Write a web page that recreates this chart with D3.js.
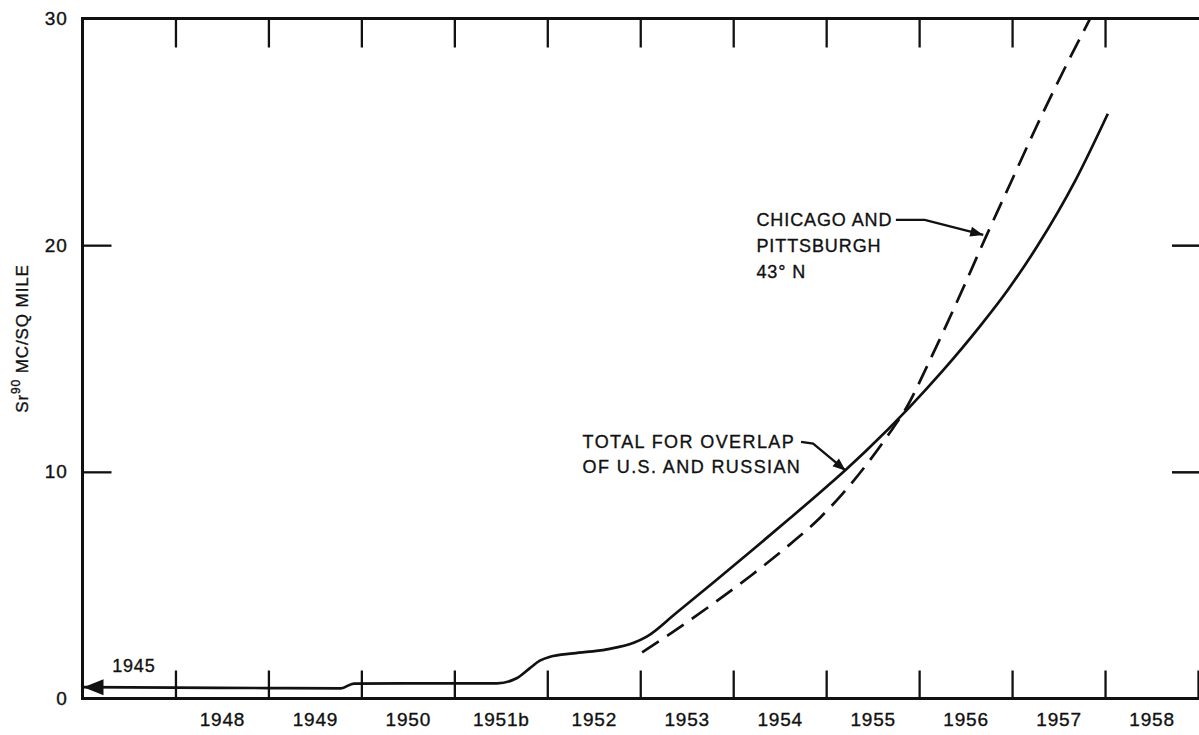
<!DOCTYPE html>
<html>
<head>
<meta charset="utf-8">
<script src="https://cdn.jsdelivr.net/npm/d3@7"></script>
<style>
  html, body { margin: 0; padding: 0; background: #fff; }
  svg { display: block; }
  text { font-family: "Liberation Sans", Arial, sans-serif; fill: #111; stroke: #111; stroke-width: 0.35px; }
</style>
</head>
<body>
<script>
// ---------------- DATA ----------------
const tickYears = [1948, 1949, 1950, 1951, 1952, 1953, 1954, 1955, 1956, 1957, 1958, 1959];
const topTickYears = [1948, 1949, 1950, 1951, 1952, 1953, 1954, 1955, 1956, 1957, 1958];
const labelYears = [1948, 1949, 1950, 1951, 1952, 1953, 1954, 1955, 1956, 1957, 1958];
const yearLabels = ["1948", "1949", "1950", "1951b", "1952", "1953", "1954", "1955", "1956", "1957", "1958"];
const yTicks = [0, 10, 20, 30];
const yRightTicks = [10, 20];

// Total for overlap of U.S. and Russian (solid)
const totalYears  = [1947.0, 1948.0, 1949.0, 1949.78, 1949.92, 1950.5, 1951.0, 1951.46, 1951.67, 1951.81, 1951.92, 1952.03, 1952.28, 1952.64, 1952.93, 1953.07, 1953.38, 1953.79, 1954.2, 1954.61, 1955.02, 1955.22, 1955.43, 1955.88, 1956.25, 1956.66, 1956.95, 1957.27, 1957.68, 1958.03];
const totalValues = [0.50, 0.48, 0.46, 0.45, 0.66, 0.67, 0.67, 0.67, 0.89, 1.33, 1.67, 1.84, 1.99, 2.17, 2.46, 2.73, 3.75, 5.13, 6.53, 7.95, 9.4, 10.13, 10.93, 12.78, 14.44, 16.45, 18.0, 19.95, 22.85, 25.8];

// Chicago and Pittsburgh 43° N (dashed)
const chicagoYears  = [1953.02, 1953.38, 1953.79, 1954.2, 1954.61, 1954.94, 1955.18, 1955.43, 1955.68, 1955.88, 1956.09, 1956.29, 1956.5, 1956.7, 1956.99, 1957.27, 1957.56, 1957.84];
const chicagoValues = [2.04, 3.02, 4.2, 5.45, 6.8, 8.0, 9.05, 10.3, 11.7, 12.95, 14.7, 16.45, 18.35, 20.2, 22.8, 25.3, 27.75, 30.0];

// Annotations (data space)
const chicagoLabel = ["CHICAGO AND", "PITTSBURGH", "43° N"];
const chicagoLabelAt = [1954.25, 20.85];
const chicagoLeader = [[1955.75, 21.12], [1956.06, 21.12], [1956.69, 20.45]];
const totalLabel = ["TOTAL FOR OVERLAP", "OF U.S. AND RUSSIAN"];
const totalLabelAt = [1952.38, 11.04];
const totalLeader = [[1954.73, 11.32], [1954.86, 11.25], [1955.21, 10.05]];
const startLabel = "1945";
const startLabelAt = [1947.32, 1.18];

// ---------------- CHART ----------------
const W = 1199, H = 735;
const svg = d3.select("body").append("svg").attr("width", W).attr("height", H);
svg.append("rect").attr("width", W).attr("height", H).attr("fill", "#fff");

const x = d3.scaleLinear().domain([1947, 1959]).range([82.5, 1198]);
const y = d3.scaleLinear().domain([0, 30]).range([698.5, 18.5]);

const ink = "#111";
const FONT = "Liberation Sans, Arial, sans-serif";

// Frame
svg.append("path")
  .attr("d", `M${W},${y(30)} H${x(1947)} V${y(0)} H${W}`)
  .attr("fill", "none").attr("stroke", ink).attr("stroke-width", 3);

// Bottom inward ticks
const gb = svg.append("g").attr("transform", `translate(0,${y(0)})`)
  .call(d3.axisBottom(x).tickValues(tickYears).tickSizeInner(-28).tickSizeOuter(0).tickFormat(""));
gb.select(".domain").remove();
gb.selectAll(".tick line").attr("stroke", ink).attr("stroke-width", 2.3);

// Bottom year labels (centred in each year)
const gl = svg.append("g").attr("transform", `translate(0,${y(0)})`)
  .call(d3.axisBottom(x).tickValues(labelYears.map(v => v + 0.5)).tickSize(0).tickPadding(14)
    .tickFormat((d, i) => yearLabels[i]));
gl.select(".domain").remove();
gl.selectAll(".tick text").attr("font-size", 19).attr("font-family", FONT).attr("fill", ink).attr("letter-spacing", "0.8px");

// Top inward ticks
const gt = svg.append("g").attr("transform", `translate(0,${y(30)})`)
  .call(d3.axisTop(x).tickValues(topTickYears).tickSizeInner(-29).tickSizeOuter(0).tickFormat(""));
gt.select(".domain").remove();
gt.selectAll(".tick line").attr("stroke", ink).attr("stroke-width", 2.3);

// Left axis
const gy = svg.append("g").attr("transform", `translate(${x(1947)},0)`)
  .call(d3.axisLeft(y).tickValues(yTicks).tickSizeInner(-29).tickSizeOuter(0).tickPadding(15).tickFormat(d3.format("d")));
gy.select(".domain").remove();
gy.selectAll(".tick line").attr("stroke", ink).attr("stroke-width", 2.3)
  .attr("display", d => (d === 0 || d === 30) ? "none" : null);
gy.selectAll(".tick text").attr("font-size", 19).attr("font-family", FONT).attr("fill", ink).attr("letter-spacing", "0.8px");

// Right inward ticks
const gr = svg.append("g").attr("transform", `translate(${W},0)`)
  .call(d3.axisRight(y).tickValues(yRightTicks).tickSizeInner(-27).tickSizeOuter(0).tickFormat(""));
gr.select(".domain").remove();
gr.selectAll(".tick line").attr("stroke", ink).attr("stroke-width", 2.5);

// Y axis title
const yt = svg.append("text")
  .attr("transform", `translate(28,${(y(30) + y(0)) / 2 - 20}) rotate(-90)`)
  .attr("text-anchor", "middle").attr("font-size", 17).attr("letter-spacing", "0.9px");
yt.append("tspan").text("Sr");
yt.append("tspan").attr("font-size", 12).attr("dy", -8).text("90");
yt.append("tspan").attr("dy", 8).text(" MC/SQ MILE");

// Clip to plot
svg.append("clipPath").attr("id", "plot")
  .append("rect").attr("x", x(1947)).attr("y", y(30)).attr("width", W - x(1947)).attr("height", y(0) - y(30));

const line = d3.line().x(d => x(d[0])).y(d => y(d[1])).curve(d3.curveMonotoneX);

const totalData = totalYears.map((t, i) => [t, totalValues[i]]);
const chicagoData = chicagoYears.map((t, i) => [t, chicagoValues[i]]);

svg.append("path").datum(totalData)
  .attr("clip-path", "url(#plot)")
  .attr("d", line).attr("fill", "none").attr("stroke", ink).attr("stroke-width", 2.7)
  .attr("stroke-linejoin", "round");

svg.append("path").datum(chicagoData)
  .attr("clip-path", "url(#plot)")
  .attr("d", line).attr("fill", "none").attr("stroke", ink).attr("stroke-width", 2.7)
  .attr("stroke-dasharray", "20,10");

// Start arrowhead (pointing left at axis)
const ax0 = x(totalData[0][0]), ay0 = y(totalData[0][1]);
svg.append("path")
  .attr("d", `M${ax0 + 1},${ay0} L${ax0 + 21},${ay0 - 8} L${ax0 + 21},${ay0 + 8} Z`)
  .attr("fill", ink);

svg.append("text").attr("x", x(startLabelAt[0])).attr("y", y(startLabelAt[1]))
  .attr("font-size", 18).attr("letter-spacing", "0.8px").text(startLabel);

// Annotation leaders
function leader(pts) {
  const p = pts.map(d => [x(d[0]), y(d[1])]);
  svg.append("path").attr("d", d3.line()(p))
    .attr("fill", "none").attr("stroke", ink).attr("stroke-width", 2.3);
  const a = p[p.length - 2], b = p[p.length - 1];
  const ang = Math.atan2(b[1] - a[1], b[0] - a[0]);
  const L = 13, Wd = 5;
  const bx = b[0] - L * Math.cos(ang), by = b[1] - L * Math.sin(ang);
  const nx = -Math.sin(ang) * Wd, ny = Math.cos(ang) * Wd;
  svg.append("path")
    .attr("d", `M${b[0]},${b[1]} L${bx + nx},${by + ny} L${bx - nx},${by - ny} Z`)
    .attr("fill", ink);
}
leader(chicagoLeader);
leader(totalLeader);

function label(lines, at, lh, ls) {
  const t = svg.append("text").attr("x", x(at[0])).attr("y", y(at[1]))
    .attr("font-size", 18).attr("letter-spacing", ls);
  lines.forEach((s, i) => {
    t.append("tspan").attr("x", x(at[0])).attr("dy", i === 0 ? 0 : lh).text(s);
  });
}
label(chicagoLabel, chicagoLabelAt, 26, "0.9px");
label(totalLabel, totalLabelAt, 25, "1.4px");
</script>
</body>
</html>
